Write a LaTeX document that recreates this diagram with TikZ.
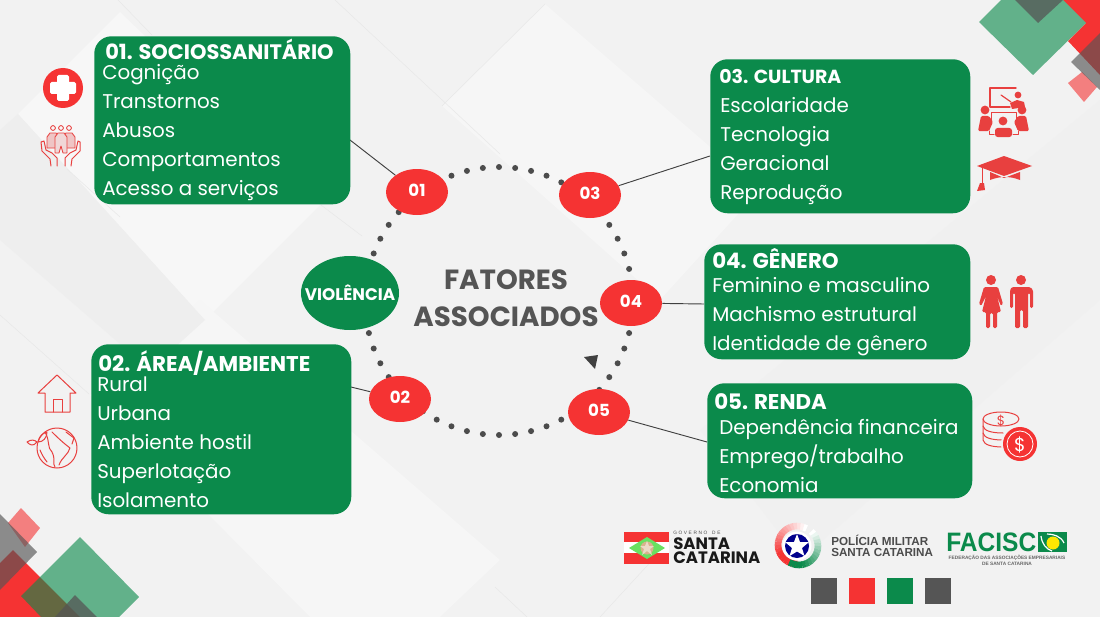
\documentclass[tikz,border=0pt]{standalone}
\usepackage{fontspec}
\setmainfont{Poppins}
\newfontfamily\arialf{Liberation Sans}
\usetikzlibrary{shapes.geometric}
\definecolor{grn}{HTML}{0B8A4B}
\definecolor{rd}{HTML}{F53333}
\definecolor{icon}{HTML}{E8403F}
\definecolor{gry}{HTML}{555555}
\definecolor{bgc}{HTML}{F2F2F2}
\tikzset{
 greenbox/.style={draw=none,fill=grn,rounded corners=13pt,anchor=north west,inner sep=0pt},
 boxtitle/.style={anchor=west,text=white,font=\fontsize{#1}{17}\selectfont\bfseries,inner sep=0pt},
 boxtitle/.default=16,
 boxlist/.style={anchor=north west,text=white,align=left,inner sep=0pt,font=\fontsize{14.9}{21.7}\selectfont},
 badge/.style={ellipse,fill=rd,text=white,minimum width=46.5pt,minimum height=34.5pt,inner sep=0pt,font=\fontsize{12.5}{12}\selectfont\bfseries},
 link/.style={draw=black!75,line width=.7pt},
 facet/.style={fill=#1,draw=none},
 seam/.style={draw=black!9,line width=.4pt},
 iconline/.style={draw=icon,line width=.75pt,fill=none,line join=round,line cap=round},
 swatch/.style={minimum size=19.5pt,inner sep=0pt,anchor=north west,fill=#1},
}
\begin{document}
\begin{tikzpicture}[x=.75pt,y=-.75pt]
\useasboundingbox (0,0) rectangle (1100,617);
\fill[bgc] (0,0) rectangle (1100,617);
% background facets
\begin{scope}
\clip (0,0) rectangle (1100,617);
\path[facet=white!35!bgc] (18,114) -- (120,12) -- (320,205) -- (205,320) -- cycle;
\path[facet=white!30!bgc] (442,106) -- (545,4) -- (760,190) -- (660,300) -- cycle;
\path[facet=white!30!bgc] (90,395) -- (200,300) -- (500,560) -- (440,617) -- (310,617) -- cycle;
\path[facet=black!1.5!bgc] (0,130) -- (18,114) -- (205,320) -- (150,370) -- (0,240) -- cycle;
\path[facet=black!.8!bgc] (700,430) -- (1100,100) -- (1100,300) -- (800,560) -- cycle;
\draw[seam] (118,0) -- (152,35);
\draw[seam] (67,169) -- (120,217);
\draw[seam] (321,205) -- (362,236);
\draw[seam] (335,0) -- (500,154);
\draw[seam] (442,106) -- (545,4);
\draw[seam] (0,315) -- (89,394);
\draw[seam] (495,587) -- (527,617);
\draw[seam] (600,617) -- (680,530);
\end{scope}
% corner decoration, top right
\fill[rd] (1063,0) -- (1100,0) -- (1100,75) -- (1068,41) -- (1086,23) -- cycle;
\fill[rd,opacity=.6] (1068,83) -- (1082,72) -- (1097,87) -- (1084,102) -- cycle;
\fill[gry,opacity=.65] (1071,62) -- (1100,33) -- (1100,90) -- cycle;
\fill[grn,opacity=.62] (979,22) -- (1001,0) -- (1063,0) -- (1086,23) -- (1033,75) -- cycle;
\fill[gry,opacity=.75] (1015,0) -- (1063,0) -- (1038,23) -- cycle;
% corner decoration, bottom left
\fill[rd] (0,563) -- (13,550) -- (80,617) -- (0,617) -- cycle;
\fill[rd,opacity=.6] (8,523) -- (21,508) -- (40,528) -- (25,547) -- cycle;
\fill[gry,opacity=.65] (0,514) -- (37,552) -- (0,590) -- cycle;
\fill[grn,opacity=.62] (80,537) -- (139,597) -- (119,617) -- (41,617) -- (21,596) -- cycle;
\fill[gry,opacity=.75] (75,595) -- (97,617) -- (55,617) -- cycle;
% nodes of the cycle
\coordinate (c1) at (350,140);
\coordinate (c2) at (351,387);
\coordinate (c3) at (710,156);
\coordinate (c4) at (704,304);
\coordinate (c5) at (707,442);
\foreach \i in {0,...,51}{
  \pgfmathsetmacro\a{90+\i*6.923}
  \fill[gry!90!black] ({499+134*cos(\a)},{301-134*sin(\a)}) circle[radius=3];
}
\node[badge] (n1) at (417,192) {\raisebox{3pt}{01}};
\node[badge] (n2) at (400,399) {\raisebox{3pt}{02}};
\node[badge] (n3) at (590,195) {\raisebox{3pt}{03}};
\node[badge] (n4) at (631,303) {\raisebox{3pt}{04}};
\node[badge] (n5) at (599,412) {\raisebox{3pt}{05}};
\node[ellipse,fill=grn,text=white,minimum width=73.5pt,minimum height=55.5pt,inner sep=0pt,font=\fontsize{12.6}{12}\selectfont\bfseries] (v) at (350,293) {\makebox[0pt]{VIOLÊNCIA}};
\draw[link] (c1) -- (n1);
\draw[link] (c2) -- (n2);
\draw[link] (c3) -- (n3);
\draw[link] (c4) -- (n4);
\draw[link] (c5) -- (n5);
\node[font=\fontsize{20.8}{20}\selectfont\bfseries,text=gry,inner sep=0pt] (f1) at (506,280) {FATORES};
\node[font=\fontsize{20.8}{20}\selectfont\bfseries,text=gry,inner sep=0pt] (f2) at (506,317) {ASSOCIADOS};
\fill[black!75] (584,357) -- (598,355) -- (595,369) -- cycle;
% boxes
\node[greenbox,minimum width=192pt,minimum height=126pt] (b1) at (94,36) {};
\node[boxtitle=15.7] (b1t) at (105,49) {01. SOCIOSSANITÁRIO};
\node[boxlist] (b1l) at (102,64) {Cognição\\Transtornos\\Abusos\\Comportamentos\\Acesso a serviços};
\node[greenbox,minimum width=195pt,minimum height=127.5pt] (b2) at (91,344) {};
\node[boxtitle] (b2t) at (98,363) {02. ÁREA/AMBIENTE};
\node[boxlist] (b2l) at (97,377) {Rural\\Urbana\\Ambiente hostil\\Superlotação\\Isolamento};
\node[greenbox,minimum width=195pt,minimum height=115.5pt] (b3) at (710,59) {};
\node[boxtitle=14.2] (b3t) at (719,77) {03. CULTURA};
\node[boxlist] (b3l) at (720,97) {Escolaridade\\Tecnologia\\Geracional\\Reprodução};
\node[greenbox,minimum width=199.5pt,minimum height=86.25pt] (b4) at (704,244) {};
\node[boxtitle] (b4t) at (712,259) {04. GÊNERO};
\node[boxlist] (b4l) at (712,277) {Feminino e masculino\\Machismo estrutural\\Identidade de gênero};
\node[greenbox,minimum width=198.75pt,minimum height=86.25pt] (b5) at (707,383) {};
\node[boxtitle] (b5t) at (714,402) {05. RENDA};
\node[boxlist] (b5l) at (719,419) {Dependência financeira\\Emprego/trabalho\\Economia};
% icon: medical cross
\fill[rd] (63,88) circle[radius=20];
\fill[white,rounded corners=1.2pt] (57,75) rectangle (69,101);
\fill[white,rounded corners=1.2pt] (50,82) rectangle (76,94);
% icon: people in hands
\foreach \x in {53,61,69}{\draw[iconline,line width=.65pt] (\x,128) circle[radius=2.4];}
\draw[iconline,line width=.65pt,fill=icon!25!bgc] (47,148) -- (47,137) -- (50,133) -- (56,133) -- (59,137) -- (58,148) -- cycle;
\draw[iconline,line width=.65pt,fill=icon!25!bgc] (63,137) -- (66,133) -- (72,133) -- (75,137) -- (75,148) -- (64,148) -- cycle;
\draw[iconline,line width=.65pt,fill=icon!15!bgc] (55,153) -- (55,137) -- (58,133) -- (64,133) -- (67,137) -- (67,153) -- (63,153) -- (61,146) -- (59,153) -- cycle;
\draw[iconline] (51,166) -- (50,159) -- (42,151) -- (41,142) -- (44,141) -- (46,150) -- (52,153) -- (57,158) -- (57,166);
\draw[iconline] (71,166) -- (72,159) -- (80,151) -- (80,142) -- (78,141) -- (76,150) -- (70,153) -- (65,158) -- (65,166);
% icon: house
\draw[iconline] (38,393) -- (57,375) -- (76,393) -- (70,393) -- (70,412) -- (45,412) -- (45,393) -- cycle;
\draw[iconline] (53,412) -- (53,399) -- (62,399) -- (62,412);
% icon: globe with leaves
\draw[iconline] (57,448) circle[radius=20];
\draw[iconline] (45,432) .. controls (50,440) and (47,448) .. (52,452) .. controls (56,460) and (52,463) .. (55,467);
\draw[iconline] (52,432) .. controls (60,440) and (66,445) .. (70,448) .. controls (68,455) and (62,457) .. (59,465);
\draw[iconline] (66,432) -- (74,438) -- (72,444);
\draw[iconline] (40,450) .. controls (42,455) and (44,458) .. (47,462);
\draw[iconline] (27,442) .. controls (31,439) and (35,440) .. (37,442) .. controls (33,447) and (30,445) .. (27,442);
\draw[iconline] (38,442) .. controls (39,436) and (43,433) .. (47,432) .. controls (47,438) and (43,442) .. (38,442);
% icon: classroom
\draw[iconline,line width=1pt] (1016,88) -- (990,88) -- (990,107) -- (1010,107);
\draw[iconline,line width=.9pt] (1001,95) -- (1011,102);
\fill[icon] (1018,95) circle[radius=3.4];
\fill[icon] (1010,103) -- (1017,100) -- (1024,102) -- (1025,107) -- (1012,109) -- cycle;
\fill[icon] (985,110) circle[radius=4.4];
\fill[icon] (1022,110) circle[radius=4.4];
\fill[icon] (1003,121) circle[radius=4.4];
\fill[icon,rounded corners=1pt] (978,131) -- (981,116) -- (989,116) -- (993,122) -- (989,131) -- cycle;
\fill[icon,rounded corners=1pt] (1029,131) -- (1026,116) -- (1018,116) -- (1014,122) -- (1018,131) -- cycle;
\fill[icon,rounded corners=2pt] (995,137) -- (995,128) -- (1012,128) -- (1012,137) -- cycle;
\draw[iconline] (991,120) -- (991,113) -- (1016,113) -- (1016,120);
\draw[iconline] (989,131) -- (989,134) -- (994,134);
\draw[iconline] (1018,131) -- (1018,134) -- (1013,134);
% icon: graduation cap
\fill[icon] (977,166) -- (1004,156) -- (1032,166) -- (1004,176) -- cycle;
\fill[icon] (990,172) -- (1004,178) -- (1020,172) -- (1020,180) .. controls (1010,176) and (1000,176) .. (990,180) -- cycle;
\draw[iconline] (982,168) -- (982,184);
\fill[icon] (980,183) -- (984,183) -- (985,190) -- (977,191) -- cycle;
% icon: woman and man
\fill[icon] (991,280) circle[radius=5];
\fill[icon,rounded corners=1pt] (984,287) -- (998,287) -- (1003,304) -- (1001,306) -- (997,296) -- (1001,312) -- (997,312) -- (997,328) -- (993,328) -- (993,313) -- (990,313) -- (990,328) -- (986,328) -- (986,312) -- (982,312) -- (986,296) -- (981,306) -- (979,304) -- cycle;
\fill[icon] (1021,280) circle[radius=5];
\fill[icon,rounded corners=1pt] (1012,287) -- (1030,287) -- (1033,290) -- (1033,308) -- (1030,308) -- (1030,293) -- (1028,293) -- (1028,328) -- (1023,328) -- (1023,310) -- (1020,310) -- (1020,328) -- (1015,328) -- (1015,293) -- (1013,293) -- (1013,308) -- (1010,308) -- (1010,290) -- cycle;
% icon: coins
\draw[iconline] (1001,419) ellipse[x radius=18,y radius=7];
\foreach \y in {426,433,440}{\draw[iconline] (983,\y-7) -- (983,\y) .. controls (984,\y+5) and (992,\y+7) .. (1003,\y+7);}
\node[text=icon,font=\fontsize{10}{10}\selectfont,inner sep=0pt] (d1) at (1001,421) {\$};
\fill[bgc] (1020,444) circle[radius=19];
\fill[rd] (1020,444) circle[radius=17];
\draw[white,line width=.6pt] (1020,444) circle[radius=13];
\node[text=white,font=\fontsize{14}{14}\selectfont,inner sep=0pt] (d2) at (1020,445) {\$};
% logo: Santa Catarina
\fill[rd] (624,532) rectangle (669,564);
\fill[white] (624,542) rectangle (669,553);
\fill[green!55!grn!85!yellow!70!white] (647,537) -- (665,548) -- (647,559) -- (629,548) -- cycle;
\fill[brown!60!white] (647,548) circle[radius=6.5];
\fill[white!70!brown] (647,541) -- (649,546) -- (654,546) -- (650,549) -- (652,555) -- (647,551) -- (642,555) -- (644,549) -- (640,546) -- (645,546) -- cycle;
\node[anchor=west,inner sep=0pt,text=black!70,font=\arialf\fontsize{3.6}{4}\selectfont] (g1) at (673,533) {G\,\,O\,\,V\,\,E\,\,R\,\,N\,\,O\,\,\,\,\,\,D\,\,E};
\node[anchor=west,inner sep=0pt,text=black!90,font=\fontsize{12.4}{12}\selectfont\bfseries] (g2) at (673,544) {SANTA};
\node[anchor=west,inner sep=0pt,text=black!90,font=\fontsize{12.4}{12}\selectfont\bfseries] (g3) at (673,558) {CATARINA};
% logo: Policia Militar
\foreach \a in {60,70,...,260}{
  \pgfmathsetmacro\p{min(100,(\a-60)*0.7)}
  \draw[draw=rd!\p!white,line width=5pt] ({797+19*cos(\a)},{545-19*sin(\a)}) -- ({797+19*cos(\a+11)},{545-19*sin(\a+11)});
}
\foreach \a in {50,40,...,-110}{
  \pgfmathsetmacro\p{min(100,(50-\a)*0.8)}
  \draw[draw=grn!\p!white,line width=5pt] ({799+19*cos(\a)},{546-19*sin(\a)}) -- ({799+19*cos(\a-11)},{546-19*sin(\a-11)});
}
\fill[white] (797,546) circle[radius=14.5];
\fill[blue!40!black!75!blue] (797,546) circle[radius=12];
\fill[white] (797,534) -- (800,542) -- (809,542) -- (802,548) -- (804.5,556) -- (797,551.5) -- (789.5,556) -- (792,548) -- (785,542) -- (794,542) -- cycle;
\node[anchor=west,inner sep=0pt,text=black!70,align=left,font=\arialf\fontsize{8.75}{8.3}\selectfont\bfseries] (p1) at (831,546) {POLÍCIA MILITAR\\SANTA CATARINA};
% logo: FACISC
\node[anchor=west,inner sep=0pt,text=grn,font=\arialf\fontsize{20}{20}\selectfont\bfseries] (h1) at (946,542) {\scalebox{.92}[1]{FACISC}};
\fill[grn] (1038,532) rectangle (1067,552);
\fill[yellow!90!orange] (1053,543) circle[radius=6.5];
\draw[white,line width=.9pt] (1041,536) .. controls (1042,544) and (1046,549) .. (1052,551);
\draw[white,line width=.9pt] (1047,534) .. controls (1053,534) and (1061,536) .. (1064,543);
\node[inner sep=0pt,text=black!60,align=center,font=\arialf\fontsize{3.6}{4.5}\selectfont\bfseries] (h2) at (1007,560) {FEDERAÇÃO DAS ASSOCIAÇÕES EMPRESARIAIS\\DE SANTA CATARINA};
% swatches
\node[swatch=gry] (s1) at (811,578) {};
\node[swatch=rd] (s2) at (849,578) {};
\node[swatch=grn] (s3) at (887,578) {};
\node[swatch=gry] (s4) at (925,578) {};
\end{tikzpicture}
\end{document}
